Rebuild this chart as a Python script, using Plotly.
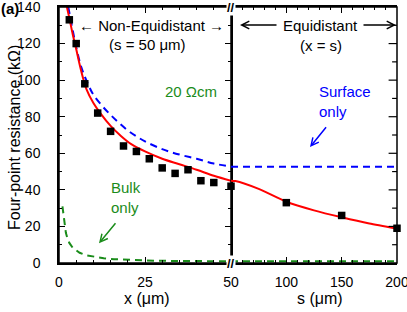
import plotly.graph_objects as go

# ---------------- data ----------------
x_meas = [3, 5, 7.5, 11.25, 15, 18.75, 22.5, 26.25, 30, 33.75, 37.5, 41.25, 45, 50]
r_meas = [133, 120, 98, 82, 72, 64, 61, 57, 52, 49, 51, 45, 44, 42]
s_meas = [100, 150, 200]
rs_meas = [33, 26, 19]

x_fit = [2.3, 3, 4, 5, 6, 7, 8, 10, 12, 15, 18, 21, 25, 30, 35, 40, 45, 50]
r_fit = [140, 134, 125, 117, 108.5, 101, 95, 87.5, 82, 75, 69.5, 65, 61, 57, 54, 51, 47.7, 45]
s_fit = [50, 54, 75, 100, 125, 150, 175, 200]
rs_fit = [45, 44.8, 40.5, 33.5, 28.8, 25, 21.6, 18.8]

x_surf = [2.7, 3.5, 5, 6.5, 8.5, 10, 12.5, 15, 17.5, 20, 22.5, 25, 30, 35, 40, 45, 50]
r_surf = [140, 132, 118, 107, 97.5, 92, 86, 81, 76.5, 72.5, 69.3, 66.5, 62.3, 59.3, 57, 54.4, 52.7]
s_surf = [50, 200]
rs_surf = [52.7, 52.7]

x_bulk = [1.0, 1.2, 1.4, 1.7, 2.0, 2.5, 3, 4, 5, 6, 8, 10, 13, 16, 20, 25, 30, 40, 50]
r_bulk = [31, 27.5, 23.5, 19.5, 16.5, 13.2, 11, 8.3, 6.7, 5.6, 4.2, 3.4, 2.6, 2.1, 1.7, 1.4, 1.2, 1.0, 0.9]
s_bulk = [50, 200]
rs_bulk = [0.9, 0.9]

# tick positions
x_labels_right = [100, 150, 200]
y_major = [20, 40, 60, 80, 100, 120]
y_minor = [10, 30, 50, 70, 90, 110, 130]

# ---------------- styling ----------------
FONT = "Liberation Sans, Arial, sans-serif"
RED = "#ff0000"
BLUE = "#0000ff"
GREEN = "#1a8c1a"
DASH = "7px,5px"

L, T, W, H = 59, 7, 338, 256
SPLIT = 172 / W


def px(xp):
    return (xp - L) / W


def py(yp):
    return (T + H - yp) / H


fig = go.Figure()

fig.add_trace(go.Scatter(x=x_bulk, y=r_bulk, mode="lines", xaxis="x", yaxis="y",
                         line=dict(color=GREEN, width=2, dash=DASH)))
fig.add_trace(go.Scatter(x=x_surf, y=r_surf, mode="lines", xaxis="x", yaxis="y",
                         line=dict(color=BLUE, width=2, dash=DASH, shape="spline")))
fig.add_trace(go.Scatter(x=x_fit, y=r_fit, mode="lines", xaxis="x", yaxis="y",
                         line=dict(color=RED, width=2, shape="spline")))
fig.add_trace(go.Scatter(x=x_meas, y=r_meas, mode="markers", xaxis="x", yaxis="y",
                         cliponaxis=False,
                         marker=dict(symbol="square", size=7.5, color="black")))
fig.add_trace(go.Scatter(x=s_bulk, y=rs_bulk, mode="lines", xaxis="x2", yaxis="y",
                         line=dict(color=GREEN, width=2, dash=DASH)))
fig.add_trace(go.Scatter(x=s_surf, y=rs_surf, mode="lines", xaxis="x2", yaxis="y",
                         line=dict(color=BLUE, width=2, dash=DASH)))
fig.add_trace(go.Scatter(x=s_fit, y=rs_fit, mode="lines", xaxis="x2", yaxis="y",
                         line=dict(color=RED, width=2, shape="spline", smoothing=0.6)))
fig.add_trace(go.Scatter(x=s_meas, y=rs_meas, mode="markers", xaxis="x2", yaxis="y",
                         cliponaxis=False,
                         marker=dict(symbol="square", size=7.5, color="black")))

# right-hand frame ticks (clipped to the plot area so only the inner half shows)
fig.add_trace(go.Scatter(x=[200] * len(y_major), y=y_major, mode="markers",
                         xaxis="x2", yaxis="y", cliponaxis=True, hoverinfo="skip",
                         marker=dict(symbol="line-ew", size=12, color="black",
                                     line=dict(width=1.2, color="black"))))
fig.add_trace(go.Scatter(x=[200] * len(y_minor), y=y_minor, mode="markers",
                         xaxis="x2", yaxis="y", cliponaxis=True, hoverinfo="skip",
                         marker=dict(symbol="line-ew", size=7, color="black",
                                     line=dict(width=1.2, color="black"))))

axis_common = dict(showline=True, linecolor="black", linewidth=1.5, ticks="inside",
                   tickcolor="black", tickwidth=1.2, ticklen=6, showgrid=False,
                   zeroline=False, mirror="ticks", ticklabeloverflow="allow",
                   automargin=False,
                   tickfont=dict(family=FONT, size=14, color="black"))
minor_common = dict(ticks="inside", ticklen=3.5, tickcolor="black", tickwidth=1.2)

fig.update_layout(
    width=407, height=312,
    margin=dict(l=L, r=407 - L - W, t=T, b=312 - T - H),
    paper_bgcolor="white", plot_bgcolor="white",
    font=dict(family=FONT, size=14, color="black"),
    showlegend=False,
    xaxis=dict(domain=[0, SPLIT], range=[0, 50], anchor="y",
               tickmode="linear", tick0=0, dtick=25, ticklabelstandoff=5,
               minor=dict(dtick=5, **minor_common), **axis_common),
    xaxis2=dict(domain=[SPLIT, 1], range=[50, 200], anchor="y",
                tickmode="array", tickvals=x_labels_right, ticklabelstandoff=5,
                minor=dict(tickmode="linear", tick0=50, dtick=10, **minor_common),
                **axis_common),
    yaxis=dict(domain=[0, 1], range=[0, 140], anchor="x",
               tickmode="linear", tick0=0, dtick=20, ticklabelstandoff=14,
               minor=dict(dtick=10, **minor_common), **axis_common),
)

# frame (drawn as well, in case axis lines are hidden) and separator at x = 50
frame = dict(color="black", width=1.5)
fig.add_shape(type="rect", xref="paper", yref="paper", x0=0, x1=1, y0=0, y1=1,
              line=frame, fillcolor="rgba(0,0,0,0)", layer="above")
fig.add_shape(type="line", xref="x", yref="paper", x0=50, x1=50, y0=0, y1=1,
              line=frame, layer="above")


def text(xp, yp, s, size=15, color="black", xanchor="center", yanchor="middle",
         angle=0, bold=False, align="center", bg=None):
    fig.add_annotation(x=px(xp), y=py(yp), xref="paper", yref="paper", text=s,
                       showarrow=False, xanchor=xanchor, yanchor=yanchor, align=align,
                       textangle=angle, bgcolor=bg, borderpad=0,
                       font=dict(family=FONT, size=size, color=color,
                                 weight="bold" if bold else "normal"))


def arrow(x_head, y_head, x_tail, y_tail, color, width=1.5, head=5):
    fig.add_annotation(x=px(x_head), y=py(y_head), xref="paper", yref="paper", text="",
                       showarrow=True, ax=x_tail - x_head, ay=y_tail - y_head,
                       axref="pixel", ayref="pixel",
                       arrowhead=head, arrowsize=1, arrowwidth=width, arrowcolor=color,
                       standoff=0, startstandoff=0)


# axis-break marks
text(231, 263, "<b>//</b>", size=13, bg="white")
text(231, 7, "<b>//</b>", size=13, bg="white")

text(0, 8, "(a)", size=15, xanchor="left", bold=True)
text(151.7, 25, "\u2190 Non-Equidistant \u2192")
text(147.5, 44, "(s = 50 \u03bcm)")
text(320, 25, "Equidistant")
arrow(240, 25, 278, 25, "black")
arrow(396, 25, 362, 25, "black")
text(320.8, 45, "(x = s)")
text(191, 91, "20 \u03a9cm", color=GREEN)
text(318, 101, "Surface<br>only", color=BLUE, xanchor="left", align="left")
arrow(310, 147, 327.3, 125.7, BLUE)
text(110, 197, "Bulk<br>only", color=GREEN, xanchor="left", align="left")
arrow(99, 243.3, 116.7, 221.7, GREEN)

text(14, 138, "Four-point resistance (k\u03a9)", size=16, angle=-90)
text(146.7, 298, "x (\u03bcm)", size=16)
text(319.7, 298, "s (\u03bcm)", size=16)

fig.write_html(
    "out.html",
    config={"displayModeBar": False},
    post_script="document.body.style.margin='0';document.body.style.overflow='hidden';",
)
